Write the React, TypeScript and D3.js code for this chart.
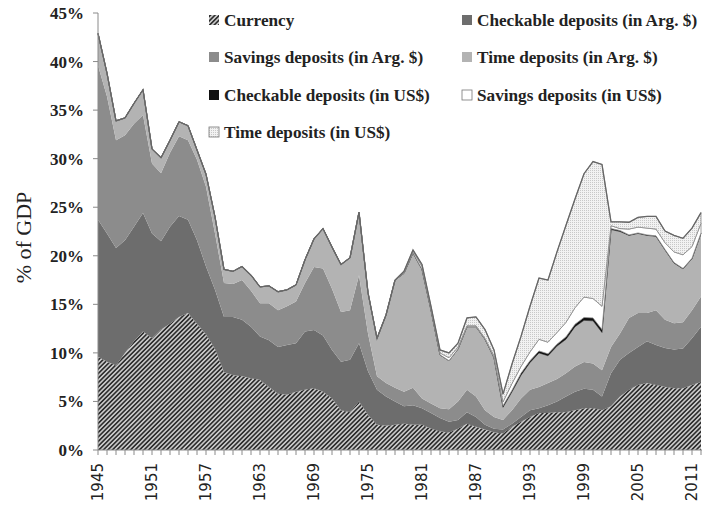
import {useEffect, useRef} from "react";
import * as d3 from "d3";

// years on the category axis
const years = d3.range(1945, 2013);
const tickYears = [1945, 1951, 1957, 1963, 1969, 1975, 1981, 1987, 1993, 1999, 2005, 2011];
const yTicks = [0, 5, 10, 15, 20, 25, 30, 35, 40, 45];

// % of GDP
const currency = [
    9.6, 9.1, 8.7, 10.0, 11.2, 12.2, 11.5, 12.4, 13.0, 13.7,
    14.1, 13.0, 11.9, 10.4, 8.0, 7.7, 7.6, 7.4, 7.2, 6.5,
    5.8, 5.7, 6.0, 6.2, 6.35, 6.0, 5.3, 4.1, 3.9, 5.0,
    3.6, 2.6, 2.5, 2.6, 2.7, 2.6, 2.6, 2.2, 1.9, 1.8,
    2.2, 2.7, 2.4, 2.1, 1.8, 1.7, 2.4, 2.9, 3.4, 3.8,
    3.8, 3.9, 3.9, 4.1, 4.3, 4.3, 4.1, 4.5, 5.5, 6.2,
    6.7, 6.9, 6.7, 6.5, 6.35, 6.35, 6.7, 7.0];
const checkableArg = [
    14.1, 13.2, 12.1, 11.6, 11.8, 12.2, 10.8, 9.1, 10.0, 10.4,
    9.6, 8.6, 7.0, 6.1, 5.7, 6.0, 5.8, 5.3, 4.5, 4.8,
    4.8, 5.1, 5.0, 6.0, 6.0, 5.8, 5.0, 5.0, 5.4, 6.0,
    4.5, 3.6, 3.0, 2.4, 1.8, 2.0, 1.7, 1.6, 1.4, 1.1,
    0.9, 1.2, 1.0, 0.5, 0.4, 0.4, 0.3, 0.5, 0.7, 0.5,
    0.8, 1.1, 1.6, 1.9, 2.0, 1.9, 1.4, 3.4, 3.8, 3.8,
    3.9, 4.3, 4.1, 4.0, 4.0, 4.1, 4.8, 5.7];
const savingsArg = [
    15.9, 14.1, 11.1, 10.8, 10.6, 10.1, 7.2, 7.0, 7.6, 8.2,
    8.2, 8.3, 8.2, 5.8, 3.5, 3.4, 4.1, 3.7, 3.4, 3.8,
    3.8, 4.0, 4.3, 5.0, 6.5, 6.9, 6.3, 5.1, 5.1, 7.0,
    3.9, 1.4, 1.4, 1.4, 1.5, 1.8, 1.0, 1.0, 1.0, 1.3,
    1.9, 2.3, 2.1, 1.5, 1.2, 1.0, 1.4, 1.9, 2.1, 2.2,
    2.3, 2.3, 2.4, 2.6, 2.75, 2.7, 2.7, 2.7, 2.7, 3.6,
    3.5, 2.9, 3.6, 2.9, 2.7, 2.7, 2.9, 3.1];
const timeArg = [
    3.3, 2.4, 2.0, 1.8, 2.1, 2.6, 1.5, 1.6, 1.3, 1.5,
    1.5, 1.0, 1.3, 1.7, 1.4, 1.3, 1.4, 1.6, 1.7, 1.8,
    1.9, 1.7, 1.7, 2.4, 2.9, 4.1, 4.3, 4.9, 5.4, 6.5,
    4.2, 3.9, 7.0, 11.1, 12.2, 13.9, 13.3, 9.6, 5.5, 5.0,
    5.4, 6.5, 7.2, 7.3, 6.1, 1.3, 1.9, 2.4, 2.8, 3.5,
    2.8, 3.4, 3.5, 4.1, 4.3, 4.4, 3.9, 12.1, 10.5, 8.5,
    8.2, 8.0, 7.6, 7.2, 6.2, 5.5, 5.3, 6.5];
const checkableUS = [
    0, 0, 0, 0, 0, 0, 0, 0, 0, 0,
    0, 0, 0, 0, 0, 0, 0, 0, 0, 0,
    0, 0, 0, 0, 0, 0, 0, 0, 0, 0,
    0, 0, 0, 0, 0, 0, 0, 0, 0, 0,
    0, 0, 0, 0, 0, 0.15, 0.15, 0.2, 0.2, 0.2,
    0.2, 0.2, 0.25, 0.25, 0.3, 0.3, 0.3, 0.1, 0.1, 0.05,
    0.05, 0.05, 0.05, 0.05, 0.05, 0.05, 0.05, 0.05];
const savingsUS = [
    0, 0, 0, 0, 0, 0, 0, 0, 0, 0,
    0, 0, 0, 0, 0, 0, 0, 0, 0, 0,
    0, 0, 0, 0, 0, 0, 0, 0, 0, 0,
    0, 0, 0, 0, 0.1, 0.2, 0.3, 0.2, 0.2, 0.3,
    0.2, 0.1, 0.1, 0.1, 0.2, 0.4, 0.7, 0.7, 0.9, 1.2,
    1.2, 1.2, 1.5, 1.7, 2.1, 2.0, 2.4, 0.3, 0.2, 0.6,
    0.6, 0.7, 0.7, 0.7, 1.1, 1.4, 1.2, 1.0];
const timeUS = [
    0, 0, 0, 0, 0, 0, 0, 0, 0, 0,
    0, 0, 0, 0, 0, 0, 0, 0, 0, 0,
    0, 0, 0, 0, 0, 0, 0, 0, 0, 0,
    0, 0, 0, 0, 0.1, 0.1, 0.2, 0.2, 0.3, 0.5,
    0.4, 0.8, 0.9, 0.9, 0.6, 0.8, 2.0, 3.1, 4.7, 6.3,
    6.4, 8.3, 10.0, 11.2, 12.7, 14.1, 14.6, 0.4, 0.7, 0.7,
    1.0, 1.2, 1.3, 1.2, 1.7, 1.7, 1.9, 1.1];

const series = [
    {key: "cur", label: "Currency", values: currency, fill: "url(#hatch)", stroke: "none"},
    {key: "chkArg", label: "Checkable deposits (in Arg. $)", values: checkableArg, fill: "#6d6d6d", stroke: "none"},
    {key: "savArg", label: "Savings deposits (in Arg. $)", values: savingsArg, fill: "#8c8c8c", stroke: "none"},
    {key: "timeArg", label: "Time deposits (in Arg. $)", values: timeArg, fill: "#b3b3b3", stroke: "none"},
    {key: "chkUS", label: "Checkable deposits (in US$)", values: checkableUS, fill: "#111", stroke: "#111"},
    {key: "savUS", label: "Savings deposits (in US$)", values: savingsUS, fill: "#fff", stroke: "#888"},
    {key: "timeUS", label: "Time deposits (in US$)", values: timeUS, fill: "url(#dots)", stroke: "#888"},
];

// legend order: two columns
const legendCols = [
    ["cur", "savArg", "chkUS", "timeUS"],
    ["chkArg", "timeArg", "savUS"],
];

const font = "'Liberation Serif', 'Times New Roman', serif";

const App = () => {
    const ref = useRef(null);
    const W = 702, H = 505;
    const margin = {top: 13, left: 98, right: 0, bottom: 55};

    useEffect(() => {
        const svg = d3.select(ref.current);
        svg.selectAll("*").remove();

        const x = d3.scaleLinear().domain([1945, 2012]).range([margin.left, W - 1]);
        const y = d3.scaleLinear().domain([0, 45]).range([H - margin.bottom, margin.top]);

        const defs = svg.append("defs");
        const hatch = defs.append("pattern").attr("id", "hatch").attr("patternUnits", "userSpaceOnUse")
            .attr("width", 3.2).attr("height", 3.2).attr("patternTransform", "rotate(45)");
        hatch.append("rect").attr("width", 3.2).attr("height", 3.2).attr("fill", "#c8c8c8");
        hatch.append("rect").attr("width", 1.6).attr("height", 3.2).attr("fill", "#2e2e2e");
        const dots = defs.append("pattern").attr("id", "dots").attr("patternUnits", "userSpaceOnUse")
            .attr("width", 2).attr("height", 2);
        dots.append("rect").attr("width", 2).attr("height", 2).attr("fill", "#f2f2f2");
        dots.append("rect").attr("width", 1).attr("height", 1).attr("fill", "#c8c8c8");

        const rows = years.map((yr, i) => {
            const r = {year: yr};
            series.forEach(s => { r[s.key] = s.values[i]; });
            return r;
        });
        const stacked = d3.stack().keys(series.map(s => s.key))(rows);

        const area = d3.area()
            .x(d => x(d.data.year))
            .y0(d => y(d[0]))
            .y1(d => y(d[1]));

        const g = svg.append("g");
        stacked.forEach((layer, i) => {
            const s = series[i];
            g.append("path").attr("d", area(layer)).attr("fill", s.fill)
                .attr("stroke", s.stroke).attr("stroke-width", s.stroke === "none" ? 0 : (s.key === "chkUS" ? 0.5 : 0.8))
                .attr("stroke-linejoin", "round");
        });
        // outline along the top of the stack
        const top = stacked[stacked.length - 1];
        g.append("path")
            .attr("d", d3.line().x(d => x(d.data.year)).y(d => y(d[1]))(top))
            .attr("fill", "none").attr("stroke", "#666").attr("stroke-width", 1.3);

        // axes
        const axisColor = "#8a8a8a";
        svg.append("line").attr("x1", margin.left).attr("x2", margin.left)
            .attr("y1", y(45)).attr("y2", y(0)).attr("stroke", axisColor);
        svg.append("line").attr("x1", margin.left).attr("x2", W)
            .attr("y1", y(0)).attr("y2", y(0)).attr("stroke", axisColor);
        svg.selectAll(".yt").data(yTicks).enter().append("line")
            .attr("x1", margin.left - 5).attr("x2", margin.left)
            .attr("y1", d => y(d)).attr("y2", d => y(d)).attr("stroke", axisColor);
        svg.selectAll(".xt").data(years).enter().append("line")
            .attr("x1", d => x(d)).attr("x2", d => x(d))
            .attr("y1", y(0)).attr("y2", y(0) + 5).attr("stroke", axisColor);

        svg.selectAll(".yl").data(yTicks).enter().append("text")
            .attr("x", margin.left - 14).attr("y", d => y(d)).attr("dy", "0.35em")
            .attr("text-anchor", "end").attr("font-family", font).attr("font-size", 17)
            .attr("font-weight", "bold").attr("fill", "#222")
            .text(d => d + "%");

        svg.selectAll(".xl").data(tickYears).enter().append("text")
            .attr("transform", d => `translate(${x(d)},${y(0) + 13}) rotate(-90)`)
            .attr("dy", "0.36em").attr("text-anchor", "end")
            .attr("font-family", "'DejaVu Sans', sans-serif").attr("font-size", 15).attr("fill", "#222")
            .text(d => d);

        svg.append("text")
            .attr("transform", `translate(31,${(y(0) + y(45)) / 2 + 6}) rotate(-90)`)
            .attr("text-anchor", "middle").attr("font-family", font).attr("font-size", 22)
            .attr("fill", "#222").text("% of GDP");

        // legend
        const colX = [209, 462];
        const rowY = [20, 57, 95, 132];
        legendCols.forEach((col, ci) => {
            col.forEach((key, ri) => {
                const s = series.find(d => d.key === key);
                const lg = svg.append("g").attr("transform", `translate(${colX[ci]},${rowY[ri]})`);
                lg.append("rect").attr("x", 0).attr("y", -5).attr("width", 10).attr("height", 10)
                    .attr("fill", s.fill).attr("stroke", s.fill === "#fff" || s.key === "timeUS" ? "#777" : "none")
                    .attr("stroke-width", 0.8);
                lg.append("text").attr("x", 15).attr("y", 0).attr("dy", "0.35em")
                    .attr("font-family", font).attr("font-size", 17.2).attr("font-weight", "bold")
                    .attr("fill", "#222").text(s.label);
            });
        });
    }, []);

    return <svg ref={ref} width={W} height={H} style={{position: "absolute", left: 0, top: 0, background: "#fff"}}/>;
};

export default App;
